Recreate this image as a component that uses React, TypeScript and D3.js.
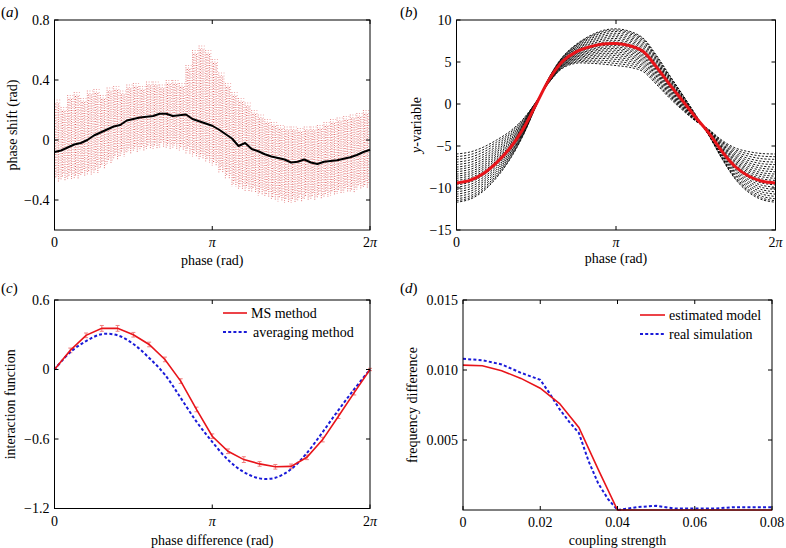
import React from 'react';
import * as d3 from 'd3';

const TAU = 2 * Math.PI;
const FONT = '"Liberation Serif", "Times New Roman", serif';

// ---------- Panel (a): phase shift vs phase ----------
const phaseShiftMean = [
  -0.08, -0.07, -0.05, -0.03, -0.02, 0.0, 0.03, 0.05, 0.07, 0.09, 0.1, 0.13, 0.14,
  0.15, 0.155, 0.16, 0.175, 0.175, 0.16, 0.165, 0.17, 0.14, 0.125, 0.11, 0.095,
  0.07, 0.04, 0.01, -0.04, -0.02, -0.06, -0.075, -0.095, -0.11, -0.12, -0.13,
  -0.15, -0.145, -0.13, -0.15, -0.16, -0.145, -0.14, -0.135, -0.125, -0.115,
  -0.1, -0.08, -0.065,
];
const scatterUpper = [
  0.27, 0.22, 0.3, 0.32, 0.28, 0.33, 0.34, 0.3, 0.35, 0.36, 0.33, 0.37, 0.38,
  0.36, 0.39, 0.39, 0.37, 0.4, 0.4, 0.38, 0.5, 0.6, 0.63, 0.6, 0.54, 0.45, 0.38,
  0.32, 0.28, 0.25, 0.2, 0.17, 0.14, 0.12, 0.1, 0.09, 0.09, 0.08, 0.09, 0.09,
  0.1, 0.12, 0.14, 0.15, 0.16, 0.17, 0.18, 0.2, 0.2,
];
const scatterLower = [
  -0.28, -0.27, -0.26, -0.26, -0.24, -0.23, -0.22, -0.19, -0.16, -0.13, -0.11,
  -0.09, -0.08, -0.07, -0.06, -0.06, -0.05, -0.06, -0.06, -0.07, -0.09, -0.11,
  -0.13, -0.15, -0.17, -0.22, -0.26, -0.31, -0.33, -0.34, -0.35, -0.37, -0.38,
  -0.4, -0.41, -0.42, -0.42, -0.41, -0.4, -0.4, -0.39, -0.38, -0.37, -0.36,
  -0.35, -0.35, -0.33, -0.32, -0.31,
];

// ---------- Panel (b): y-variable vs phase ----------
const refOrbit = [
  -9.4, -9.1, -8.3, -7.0, -5.3, -3.0, 0.0, 3.0, 5.1, 6.2, 6.8, 7.15, 7.2, 6.95,
  6.3, 4.5, 2.4, 0.4, -1.6, -3.5, -5.7, -7.5, -8.6, -9.2, -9.4,
];
const orbitSpread = [
  -2.3, -2.25, -2.1, -1.8, -1.35, -0.8, -0.2, 0.25, 0.55, 0.9, 1.3, 1.6, 1.75,
  1.72, 1.6, 1.4, 1.1, 0.75, 0.3, -0.3, -0.9, -1.5, -1.95, -2.2, -2.3,
];
const orbitScales = [
  -1.5, -1.36, -1.22, -1.08, -0.95, -0.82, -0.7, -0.58, -0.46, -0.35, -0.24,
  -0.13, -0.02, 0.1, 0.22, 0.34, 0.46, 0.58, 0.7, 0.82, 0.92, 1.0,
];

// ---------- Panel (c): interaction function ----------
const msMethod = [
  0, 0.165, 0.295, 0.355, 0.355, 0.3, 0.216, 0.087, -0.1, -0.345, -0.576, -0.706,
  -0.778, -0.815, -0.84, -0.836, -0.758, -0.605, -0.403, -0.2, 0,
];
const msError = [
  0, 0.02, 0.02, 0.025, 0.025, 0.02, 0.02, 0.02, 0.02, 0.02, 0.02, 0.02, 0.025,
  0.02, 0.02, 0.02, 0.02, 0.02, 0.02, 0.02, 0.01,
];
const averagingMethod = [
  0, 0.15, 0.245, 0.305, 0.295, 0.22, 0.1, -0.045, -0.245, -0.45, -0.625, -0.78,
  -0.885, -0.94, -0.935, -0.86, -0.72, -0.54, -0.35, -0.17, 0,
];

// ---------- Panel (d): frequency difference ----------
const couplingModelX = [
  0, 0.005, 0.01, 0.015, 0.02, 0.025, 0.03, 0.035, 0.04, 0.045, 0.05, 0.055,
  0.06, 0.065, 0.07, 0.075, 0.08,
];
const estimatedModel = [
  0.01035, 0.0103, 0.00995, 0.0094, 0.0087, 0.0076, 0.0059, 0.0029, 0, 0, 0, 0,
  0, 0, 0, 0, 0,
];
const couplingSimX = [
  0, 0.005, 0.01, 0.015, 0.02, 0.0225, 0.025, 0.0275, 0.03, 0.0325, 0.035,
  0.0375, 0.04, 0.045, 0.05, 0.055, 0.06, 0.065, 0.07, 0.075, 0.08,
];
const realSimulation = [
  0.0108, 0.0107, 0.0104, 0.0098, 0.0093, 0.0083, 0.0072, 0.0063, 0.0055,
  0.0035, 0.0019, 0.0008, 0.0, 0.0002, 0.0003, 0.0001, 0.0001, 0.0001, 0.0002,
  0.0002, 0.0002,
];

const phaseTicks = [
  { v: 0, label: '0' },
  { v: Math.PI, label: 'π' },
  { v: TAU, label: '2π' },
];

type Tick = { v: number; label: string };

function TickLabel({ label }: { label: string }) {
  if (label.includes('π')) {
    const pre = label.replace('π', '');
    return (
      <>
        {pre}
        <tspan fontStyle="italic">π</tspan>
      </>
    );
  }
  return <>{label}</>;
}

function Frame({
  x, y, xTicks, yTicks, xLabel, yLabel, yLabelX, panel, panelX, panelY,
  xLabelY, children,
}: {
  x: d3.ScaleLinear<number, number>;
  y: d3.ScaleLinear<number, number>;
  xTicks: Tick[];
  yTicks: Tick[];
  xLabel: React.ReactNode;
  yLabel: React.ReactNode;
  yLabelX: number;
  panel: string;
  panelX: number;
  panelY: number;
  xLabelY: number;
  children?: React.ReactNode;
}) {
  const [x0, x1] = x.range();
  const [y0, y1] = y.range();
  const tl = 4;
  return (
    <g>
      {children}
      <rect x={x0} y={y1} width={x1 - x0} height={y0 - y1} fill="none" stroke="#000" strokeWidth={1} />
      {xTicks.map((t) => (
        <g key={'x' + t.v}>
          <line x1={x(t.v)} x2={x(t.v)} y1={y0} y2={y0 - tl} stroke="#000" />
          <line x1={x(t.v)} x2={x(t.v)} y1={y1} y2={y1 + tl} stroke="#000" />
          <text x={x(t.v)} y={y0 + 17} textAnchor="middle" fontSize={14}>
            <TickLabel label={t.label} />
          </text>
        </g>
      ))}
      {yTicks.map((t) => (
        <g key={'y' + t.v}>
          <line x1={x0} x2={x0 + tl} y1={y(t.v)} y2={y(t.v)} stroke="#000" />
          <line x1={x1} x2={x1 - tl} y1={y(t.v)} y2={y(t.v)} stroke="#000" />
          <text x={x0 - 5} y={y(t.v) + 4.5} textAnchor="end" fontSize={14}>
            {t.label}
          </text>
        </g>
      ))}
      <text x={(x0 + x1) / 2} y={xLabelY} textAnchor="middle" fontSize={14}>
        {xLabel}
      </text>
      <text
        transform={`translate(${yLabelX},${(y0 + y1) / 2}) rotate(-90)`}
        textAnchor="middle"
        fontSize={14}
      >
        {yLabel}
      </text>
      <text x={panelX} y={panelY} fontSize={15}>
        (<tspan fontStyle="italic">{panel}</tspan>)
      </text>
    </g>
  );
}

function PanelA() {
  const x = d3.scaleLinear().domain([0, TAU]).range([54.5, 370]);
  const y = d3.scaleLinear().domain([-0.6, 0.8]).range([230, 20]);
  const n = phaseShiftMean.length;
  const phases = phaseShiftMean.map((_, i) => (i / (n - 1)) * TAU);
  const line = d3.line<number>().x((_, i) => x(phases[i])).y((d) => y(d));
  const offsets = [0, 1.3, 2.6, 3.9, 5.2];
  const colors = ['#e67c7c', '#d94a4a', '#ee9c9c', '#e06666', '#f0aaaa'];
  const dashes = ['1 1.3', '1 1.8', '1 1.5', '1 1.2', '1 2'];
  return (
    <Frame
      x={x}
      y={y}
      xTicks={phaseTicks}
      yTicks={[
        { v: -0.4, label: '−0.4' },
        { v: 0, label: '0' },
        { v: 0.4, label: '0.4' },
        { v: 0.8, label: '0.8' },
      ]}
      xLabel="phase (rad)"
      xLabelY={265}
      yLabel="phase shift (rad)"
      yLabelX={17}
      panel="a"
      panelX={1}
      panelY={17}
    >
      <g>
        {phases.map((p, i) =>
          offsets.map((o, j) => {
            const px = x(p) + o;
            if (px > 369) return null;
            return (
              <line
                key={i + '-' + j}
                x1={px}
                x2={px}
                y1={y(scatterUpper[i]) + (j % 2) * 4}
                y2={y(scatterLower[i]) - (j % 3) * 3}
                stroke={colors[j]}
                strokeWidth={1}
                strokeDasharray={dashes[j]}
                opacity={0.9}
              />
            );
          })
        )}
      </g>
      <path d={line(phaseShiftMean) || ''} fill="none" stroke="#000" strokeWidth={2} strokeLinejoin="round" />
    </Frame>
  );
}

function PanelB() {
  const x = d3.scaleLinear().domain([0, TAU]).range([456.5, 775.5]);
  const y = d3.scaleLinear().domain([-15, 10]).range([230, 20]);
  const n = refOrbit.length;
  const phases = refOrbit.map((_, i) => (i / (n - 1)) * TAU);
  const line = d3
    .line<number>()
    .x((_, i) => x(phases[i]))
    .y((d) => y(d))
    .curve(d3.curveCatmullRom);
  return (
    <Frame
      x={x}
      y={y}
      xTicks={phaseTicks}
      yTicks={[-15, -10, -5, 0, 5, 10].map((v) => ({ v, label: v < 0 ? '−' + Math.abs(v) : String(v) }))}
      xLabel="phase (rad)"
      xLabelY={263}
      yLabel={
        <>
          <tspan fontStyle="italic">y</tspan>-variable
        </>
      }
      yLabelX={421}
      panel="b"
      panelX={400}
      panelY={17}
    >
      {orbitScales.map((s, k) => (
        <path
          key={k}
          d={line(refOrbit.map((r, i) => r + s * orbitSpread[i])) || ''}
          fill="none"
          stroke="#000"
          strokeWidth={0.9}
          strokeDasharray="2.2 1.6"
        />
      ))}
      <path d={line(refOrbit) || ''} fill="none" stroke="#e8141a" strokeWidth={3} />
    </Frame>
  );
}

function PanelC() {
  const x = d3.scaleLinear().domain([0, TAU]).range([54.5, 370]);
  const y = d3.scaleLinear().domain([-1.2, 0.6]).range([508.5, 300]);
  const n = msMethod.length;
  const phases = msMethod.map((_, i) => (i / (n - 1)) * TAU);
  const lineLin = d3.line<number>().x((_, i) => x(phases[i])).y((d) => y(d));
  const lineSmooth = d3
    .line<number>()
    .x((_, i) => x(phases[i]))
    .y((d) => y(d))
    .curve(d3.curveCatmullRom);
  return (
    <Frame
      x={x}
      y={y}
      xTicks={phaseTicks}
      yTicks={[
        { v: -1.2, label: '−1.2' },
        { v: -0.6, label: '−0.6' },
        { v: 0, label: '0' },
        { v: 0.6, label: '0.6' },
      ]}
      xLabel="phase difference (rad)"
      xLabelY={545}
      yLabel="interaction function"
      yLabelX={15}
      panel="c"
      panelX={1}
      panelY={293}
    >
      {msMethod.map((m, i) =>
        msError[i] > 0 ? (
          <g key={i} stroke="#f08080" strokeWidth={1}>
            <line x1={x(phases[i])} x2={x(phases[i])} y1={y(m - msError[i])} y2={y(m + msError[i])} />
            <line x1={x(phases[i]) - 2} x2={x(phases[i]) + 2} y1={y(m - msError[i])} y2={y(m - msError[i])} />
            <line x1={x(phases[i]) - 2} x2={x(phases[i]) + 2} y1={y(m + msError[i])} y2={y(m + msError[i])} />
          </g>
        ) : null
      )}
      <path d={lineSmooth(averagingMethod) || ''} fill="none" stroke="#1a1ad8" strokeWidth={2} strokeDasharray="3 2.2" />
      <path d={lineLin(msMethod) || ''} fill="none" stroke="#e8141a" strokeWidth={1.6} />
      <line x1={223} x2={247} y1={313} y2={313} stroke="#e8141a" strokeWidth={1.6} />
      <text x={251} y={318} fontSize={14}>MS method</text>
      <line x1={223} x2={247} y1={332} y2={332} stroke="#1a1ad8" strokeWidth={2} strokeDasharray="3 2.2" />
      <text x={253} y={337} fontSize={14}>averaging method</text>
    </Frame>
  );
}

function PanelD() {
  const x = d3.scaleLinear().domain([0, 0.08]).range([463, 772]);
  const y = d3.scaleLinear().domain([0, 0.015]).range([510, 300]);
  const lineModel = d3.line<number>().x((_, i) => x(couplingModelX[i])).y((d) => y(d));
  const lineSim = d3.line<number>().x((_, i) => x(couplingSimX[i])).y((d) => y(d));
  return (
    <Frame
      x={x}
      y={y}
      xTicks={[0, 0.02, 0.04, 0.06, 0.08].map((v) => ({ v, label: v === 0 ? '0' : v.toFixed(2) }))}
      yTicks={[0.005, 0.01, 0.015].map((v) => ({ v, label: v.toFixed(3) }))}
      xLabel="coupling strength"
      xLabelY={545}
      yLabel="frequency difference"
      yLabelX={417}
      panel="d"
      panelX={400}
      panelY={293}
    >
      <path d={lineSim(realSimulation) || ''} fill="none" stroke="#1a1ad8" strokeWidth={2} strokeDasharray="3 2.2" />
      <path d={lineModel(estimatedModel) || ''} fill="none" stroke="#e8141a" strokeWidth={1.6} />
      <line x1={640} x2={665} y1={315} y2={315} stroke="#e8141a" strokeWidth={1.6} />
      <text x={669} y={320} fontSize={14}>estimated model</text>
      <line x1={640} x2={665} y1={334} y2={334} stroke="#1a1ad8" strokeWidth={2} strokeDasharray="3 2.2" />
      <text x={669} y={339} fontSize={14}>real simulation</text>
    </Frame>
  );
}

export default function App() {
  return (
    <svg
      width={786}
      height={548}
      style={{ position: 'absolute', left: 0, top: 0, background: '#fff' }}
      fontFamily={FONT}
    >
      <rect width={786} height={548} fill="#fff" />
      <PanelA />
      <PanelB />
      <PanelC />
      <PanelD />
    </svg>
  );
}
